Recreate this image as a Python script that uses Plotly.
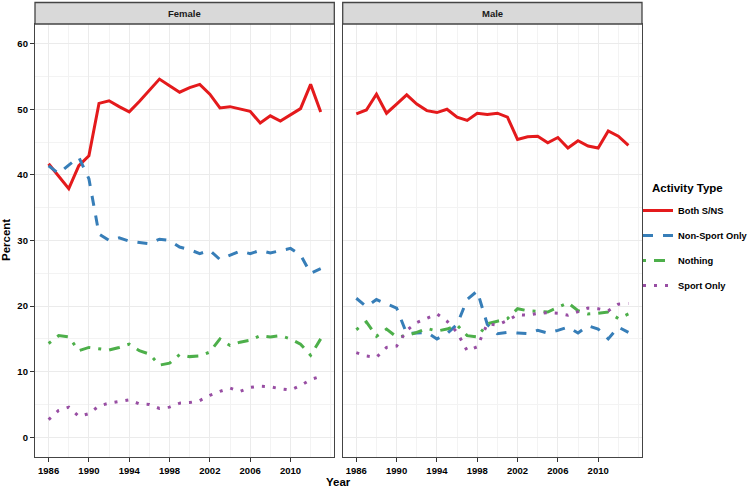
import plotly.graph_objects as go

years = list(range(1986, 2014))
year_ticks = [1986, 1990, 1994, 1998, 2002, 2006, 2010]
pct_ticks = [0, 10, 20, 30, 40, 50, 60]

female_both = [41.7, 39.8, 37.9, 41.4, 42.9, 50.9, 51.3, 50.4, 49.6, 51.2, 52.9, 54.6, 53.6, 52.6,
               53.3, 53.8, 52.3, 50.2, 50.4, 50.0, 49.7, 47.9, 49.0, 48.2, 49.2, 50.1, 53.8, 49.6]
female_nonsport = [41.4, 40.2, 41.5, 42.7, 39.4, 31.0, 30.0, 30.4, 29.9, 29.7, 29.5, 30.2, 30.0, 29.0,
                   28.6, 28.0, 28.5, 27.1, 27.7, 28.4, 28.0, 28.5, 28.1, 28.4, 28.8, 27.8, 25.0, 25.7]
female_nothing = [14.3, 15.5, 15.3, 13.2, 13.7, 13.5, 13.3, 13.7, 14.2, 13.2, 12.7, 11.0, 11.3, 12.6,
                  12.3, 12.4, 13.0, 15.0, 14.0, 14.5, 14.8, 15.5, 15.3, 15.5, 15.0, 14.2, 12.5, 15.0]
female_sport = [2.7, 4.1, 4.6, 3.2, 3.6, 4.8, 5.2, 5.5, 5.7, 5.1, 5.0, 4.4, 4.6, 5.2,
                5.3, 5.6, 6.4, 7.0, 7.5, 7.0, 7.6, 7.8, 7.7, 7.4, 7.2, 7.9, 8.8, 9.3]

male_both = [49.3, 49.9, 52.3, 49.4, 50.8, 52.2, 50.8, 49.8, 49.5, 50.0, 48.8, 48.3, 49.4, 49.2,
             49.4, 48.8, 45.4, 45.8, 45.9, 44.9, 45.7, 44.1, 45.2, 44.4, 44.1, 46.7, 45.9, 44.5]
male_nonsport = [21.2, 19.9, 21.0, 20.3, 19.7, 15.8, 15.9, 16.0, 15.0, 15.8, 17.2, 21.0, 22.3, 17.2,
                 15.8, 16.0, 15.9, 15.8, 16.3, 15.9, 16.3, 16.8, 15.9, 17.0, 16.5, 15.0, 16.8, 16.0]
male_nothing = [16.4, 17.6, 15.4, 16.5, 15.3, 15.5, 16.0, 16.6, 16.2, 16.5, 17.1, 15.5, 15.3, 17.3,
                17.7, 18.1, 19.6, 19.3, 19.2, 19.1, 19.8, 20.5, 19.3, 18.8, 18.9, 19.1, 18.1, 18.8]
male_sport = [12.9, 12.4, 12.2, 13.7, 13.9, 16.3, 17.5, 18.2, 18.8, 17.7, 16.0, 13.2, 13.8, 17.3,
              17.1, 17.8, 18.7, 18.6, 18.9, 19.0, 18.9, 18.6, 19.1, 19.7, 19.6, 19.3, 20.3, 20.4]

panels = ["Female", "Male"]
series_names = ["Both S/NS", "Non-Sport Only", "Nothing", "Sport Only"]
colors = ["#e41a1c", "#377eb8", "#4daf4a", "#984ea3"]
dashes = ["solid", "10px,10px", "3px,8px,11px,8px", "3px,8px"]

data = {
    "Female": [female_both, female_nonsport, female_nothing, female_sport],
    "Male": [male_both, male_nonsport, male_nothing, male_sport],
}

FONT = "Liberation Sans, Arial, sans-serif"

fig = go.Figure()
for pi, panel in enumerate(panels):
    ax = "" if pi == 0 else "2"
    for si, name in enumerate(series_names):
        fig.add_trace(go.Scatter(
            x=years, y=data[panel][si], mode="lines", name=name,
            line=dict(color=colors[si], width=3, dash=dashes[si]),
            xaxis="x" + ax, yaxis="y" + ax,
            showlegend=(pi == 0), legendgroup=name,
        ))

W, H = 750, 489
ml, mr, mt, mb = 35, 108, 24, 32
pw = W - ml - mr
ph = H - mt - mb
d1 = [0, (334.3 - ml) / pw]
d2 = [(342.7 - ml) / pw, 1]

xcommon = dict(range=[1984.65, 2014.35], tickmode="array", tickvals=year_ticks,
               ticks="outside", ticklen=4, tickcolor="#333333", tickwidth=1,
               showline=True, linecolor="#444444", linewidth=1.3, mirror=True,
               showgrid=True, gridcolor="#ebebeb", gridwidth=1.4, zeroline=False,
               minor=dict(dtick=2, tick0=1986, showgrid=True, gridcolor="#f3f3f3", gridwidth=1, ticks=""),
               automargin=False,
               tickfont=dict(family=FONT, size=9.5, color="#000000", weight="bold"))
ycommon = dict(range=[-3, 63], tickmode="array", tickvals=pct_ticks,
               showline=True, linecolor="#444444", linewidth=1.3, mirror=True,
               showgrid=True, gridcolor="#ebebeb", gridwidth=1.4, zeroline=False,
               minor=dict(dtick=5, tick0=0, showgrid=True, gridcolor="#f3f3f3", gridwidth=1, ticks=""),
               automargin=False,
               tickfont=dict(family=FONT, size=9.5, color="#000000", weight="bold"))

fig.update_layout(
    width=W, height=H,
    margin=dict(l=ml, r=mr, t=mt, b=mb, autoexpand=False),
    paper_bgcolor="white", plot_bgcolor="white",
    xaxis=dict(domain=d1, anchor="y", **xcommon),
    xaxis2=dict(domain=d2, anchor="y2", **xcommon),
    yaxis=dict(domain=[0, 1], anchor="x", ticks="outside", ticklen=4, tickcolor="#333333",
               tickwidth=1, **ycommon),
    yaxis2=dict(domain=[0, 1], anchor="x2", showticklabels=False, ticks="", **ycommon),
    legend=dict(
        xref="container", yref="container",
        x=638 / W, xanchor="left", y=1 - 196 / H, yanchor="top",
        font=dict(family=FONT, size=9.3, color="#000000", weight="bold"),
        tracegroupgap=6, bgcolor="rgba(0,0,0,0)",
    ),
    showlegend=True,
)

strip_h = 21.5 / ph
shapes = []
annotations = []
for pi, panel in enumerate(panels):
    d = d1 if pi == 0 else d2
    shapes.append(dict(type="rect", xref="paper", yref="paper", x0=d[0], x1=d[1],
                       y0=1, y1=1 + strip_h, fillcolor="#d9d9d9",
                       line=dict(color="#444444", width=1.3), layer="above"))
    annotations.append(dict(text=panel, xref="paper", yref="paper", x=(d[0] + d[1]) / 2,
                            y=1 + strip_h / 2, showarrow=False, xanchor="center", yanchor="middle",
                            font=dict(family=FONT, size=9.5, color="#1a1a1a", weight="bold")))

annotations.append(dict(text="Activity Type", xref="paper", yref="paper", x=(650 - ml) / pw,
                        y=(H - mb - 188) / ph, showarrow=False, xanchor="left", yanchor="middle",
                        font=dict(family=FONT, size=11.5, color="#000000", weight="bold")))
annotations.append(dict(text="Year", xref="paper", yref="paper", x=(338.7 - ml) / pw,
                        y=-(482 - (H - mb)) / ph, showarrow=False, xanchor="center", yanchor="middle",
                        font=dict(family=FONT, size=11.5, color="#000000", weight="bold")))
annotations.append(dict(text="Percent", xref="paper", yref="paper", x=(6 - ml) / pw,
                        y=(H - mb - 240) / ph, showarrow=False, xanchor="center", yanchor="middle",
                        textangle=-90,
                        font=dict(family=FONT, size=11.5, color="#000000", weight="bold")))

fig.update_layout(shapes=shapes, annotations=annotations)
fig.write_html("out.html", config={"displayModeBar": False},
               post_script="document.body.style.margin='0';document.body.style.overflow='hidden';")
